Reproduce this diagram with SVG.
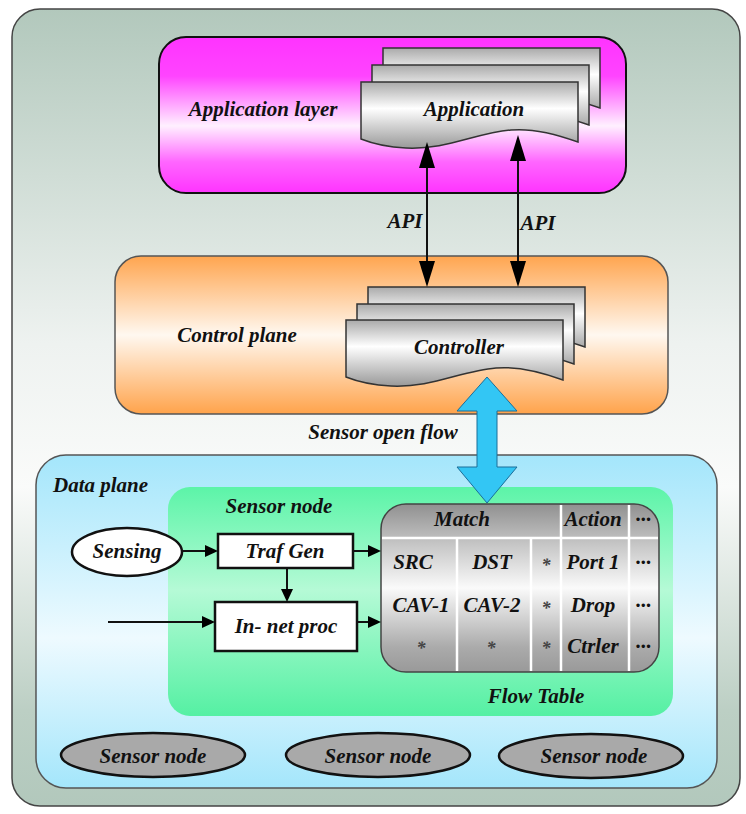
<svg xmlns="http://www.w3.org/2000/svg" width="746" height="814" viewBox="0 0 746 814">
<style>
  text { font-family: "Liberation Serif", "Times New Roman", serif; font-weight: bold; font-style: italic; font-size: 21px; fill: #111; }
  .mid { text-anchor: middle; }
  .ast { font-size: 18px; fill: #444; }
  .box { fill: #fff; stroke: #111; stroke-width: 2.5; }
  .doc { fill: url(#gDoc); stroke: #333; stroke-width: 1.5; }
  .conn { fill: none; stroke: #111; stroke-width: 2; }
  .sep { stroke: #fff; stroke-width: 2.5; }
  .sn { fill: #a9a9a9; stroke: #111; stroke-width: 2.5; }
</style>
<defs>
  <linearGradient id="gOuter" x1="0" y1="0" x2="0" y2="1">
    <stop offset="0" stop-color="#b2c8bc"/>
    <stop offset="0.42" stop-color="#eef2f0"/>
    <stop offset="0.6" stop-color="#fafbfa"/>
    <stop offset="0.88" stop-color="#bccfc4"/>
    <stop offset="1" stop-color="#b2c8bc"/>
  </linearGradient>
  <linearGradient id="gApp" x1="0" y1="0" x2="0" y2="1">
    <stop offset="0" stop-color="#ff33ff"/>
    <stop offset="0.25" stop-color="#ff44ff"/>
    <stop offset="0.57" stop-color="#fff0ff"/>
    <stop offset="0.8" stop-color="#ff66ff"/>
    <stop offset="1" stop-color="#ff33ff"/>
  </linearGradient>
  <linearGradient id="gCtl" x1="0" y1="0" x2="0" y2="1">
    <stop offset="0" stop-color="#ffa54f"/>
    <stop offset="0.5" stop-color="#fff8f0"/>
    <stop offset="1" stop-color="#ffa34b"/>
  </linearGradient>
  <linearGradient id="gData" x1="0" y1="0" x2="0" y2="1">
    <stop offset="0" stop-color="#a4e6fb"/>
    <stop offset="0.55" stop-color="#eefaff"/>
    <stop offset="1" stop-color="#a4e6fb"/>
  </linearGradient>
  <linearGradient id="gGreen" x1="0" y1="0" x2="0" y2="1">
    <stop offset="0" stop-color="#5cf4a8"/>
    <stop offset="0.45" stop-color="#b5fad6"/>
    <stop offset="1" stop-color="#55f0a3"/>
  </linearGradient>
  <linearGradient id="gDoc" x1="0" y1="0" x2="0" y2="1">
    <stop offset="0" stop-color="#aaaaaa"/>
    <stop offset="0.4" stop-color="#ffffff"/>
    <stop offset="1" stop-color="#999999"/>
  </linearGradient>
  <linearGradient id="gTable" x1="0" y1="0" x2="0" y2="1">
    <stop offset="0" stop-color="#909090"/>
    <stop offset="0.25" stop-color="#c8c8c8"/>
    <stop offset="0.5" stop-color="#fafafa"/>
    <stop offset="0.85" stop-color="#ababab"/>
    <stop offset="1" stop-color="#999999"/>
  </linearGradient>
  <path id="docShape" d="M0,0 H217 V60 C195,52 172,46 150,48 C115,51 85,68 45,66 C25,65 10,61 0,57 Z"/>
  <marker id="big" markerUnits="userSpaceOnUse" viewBox="0 0 26 16" markerWidth="26" markerHeight="16" refX="22" refY="8" orient="auto-start-reverse">
    <path d="M0,0 L26,8 L0,16 Z" fill="#000"/>
  </marker>
  <marker id="small" markerUnits="userSpaceOnUse" viewBox="0 0 13 12" markerWidth="13" markerHeight="12" refX="10" refY="6" orient="auto">
    <path d="M0,0 L13,6 L0,12 Z" fill="#000"/>
  </marker>
</defs>

<rect x="0" y="0" width="746" height="814" fill="#fff"/>

<g id="outer">
  <rect x="12" y="9" width="728" height="797" rx="28" fill="url(#gOuter)" stroke="#444" stroke-width="1.5"/>
</g>

<g id="application-layer">
  <rect x="159" y="37" width="467" height="156" rx="27" fill="url(#gApp)" stroke="#111" stroke-width="2"/>
  <text class="mid" x="263" y="116">Application layer</text>
</g>

<g id="application">
  <use href="#docShape" class="doc" transform="translate(383,48)"/>
  <use href="#docShape" class="doc" transform="translate(372,65)"/>
  <use href="#docShape" class="doc" transform="translate(361,82)"/>
  <text class="mid" x="474" y="116">Application</text>
</g>

<g id="control-plane">
  <rect x="115" y="256" width="553" height="158" rx="26" fill="url(#gCtl)" stroke="#555" stroke-width="1.5"/>
  <text class="mid" x="237" y="342">Control plane</text>
</g>

<g id="controller">
  <use href="#docShape" class="doc" transform="translate(368,287)"/>
  <use href="#docShape" class="doc" transform="translate(357,304)"/>
  <use href="#docShape" class="doc" transform="translate(346,320)"/>
  <text class="mid" x="459" y="354">Controller</text>
</g>

<g id="data-plane">
  <rect x="36" y="455" width="681" height="333" rx="30" fill="url(#gData)" stroke="#555" stroke-width="1.5"/>
  <text x="53" y="492">Data plane</text>
</g>

<g id="sensor-node-main">
  <rect x="168" y="487" width="505" height="229" rx="22" fill="url(#gGreen)"/>
  <text class="mid" x="279" y="513">Sensor node</text>
</g>

<g id="sensing">
  <ellipse cx="127" cy="552" rx="55" ry="24" class="box"/>
  <text class="mid" x="127" y="558">Sensing</text>
</g>

<g id="traf-gen">
  <rect x="218" y="534" width="135" height="34" class="box"/>
  <text class="mid" x="285" y="558">Traf Gen</text>
</g>

<g id="in-net-proc">
  <rect x="215" y="602" width="142" height="49" class="box"/>
  <text class="mid" x="286" y="633">In- net proc</text>
</g>

<g id="flow-table">
  <rect x="381" y="504" width="278" height="168" rx="25" fill="url(#gTable)" stroke="#444" stroke-width="1.5"/>
  <line class="sep" x1="382" y1="538" x2="658" y2="538"/>
  <line class="sep" x1="561" y1="505" x2="561" y2="671"/>
  <line class="sep" x1="629" y1="505" x2="629" y2="671"/>
  <line class="sep" x1="457" y1="539" x2="457" y2="671"/>
  <line class="sep" x1="531" y1="539" x2="531" y2="671"/>
  <text class="mid" x="462" y="526">Match</text>
  <text class="mid" x="593" y="526">Action</text>
  <text class="mid" x="643" y="526">···</text>
  <text class="mid" x="413" y="569">SRC</text>
  <text class="mid" x="492" y="569">DST</text>
  <text class="mid ast" x="546" y="571">*</text>
  <text class="mid" x="593" y="569">Port 1</text>
  <text class="mid" x="643" y="569">···</text>
  <text class="mid" x="421" y="612">CAV-1</text>
  <text class="mid" x="492" y="612">CAV-2</text>
  <text class="mid ast" x="546" y="614">*</text>
  <text class="mid" x="593" y="612">Drop</text>
  <text class="mid" x="643" y="612">···</text>
  <text class="mid ast" x="421" y="654">*</text>
  <text class="mid ast" x="491" y="654">*</text>
  <text class="mid ast" x="546" y="654">*</text>
  <text class="mid" x="593" y="653">Ctrler</text>
  <text class="mid" x="643" y="653">···</text>
  <text class="mid" x="536" y="703">Flow Table</text>
</g>

<g id="sensor-node-1">
  <ellipse cx="153" cy="755" rx="92" ry="22" class="sn"/>
  <text class="mid" x="153" y="763">Sensor node</text>
</g>
<g id="sensor-node-2">
  <ellipse cx="378" cy="755" rx="92" ry="22" class="sn"/>
  <text class="mid" x="378" y="763">Sensor node</text>
</g>
<g id="sensor-node-3">
  <ellipse cx="591" cy="756" rx="92" ry="22" class="sn"/>
  <text class="mid" x="594" y="763">Sensor node</text>
</g>

<g id="connectors">
  <path class="conn" d="M427,146 V283" marker-start="url(#big)" marker-end="url(#big)"/>
  <path class="conn" d="M518,139 V283" marker-start="url(#big)" marker-end="url(#big)"/>
  <text class="mid" x="405" y="228">API</text>
  <text class="mid" x="538" y="230">API</text>
  <polygon points="487,377 517,411 497,411 497,467 517,467 487,503 457,467 477,467 477,411 457,411" fill="#33c6f4" stroke="#1b6e99" stroke-width="1"/>
  <text class="mid" x="383" y="439">Sensor open flow</text>
  <path class="conn" d="M183,551 H215" marker-end="url(#small)"/>
  <path class="conn" d="M353,551 H378" marker-end="url(#small)"/>
  <path class="conn" d="M287,568 V599" marker-end="url(#small)"/>
  <path class="conn" d="M108,622 H212" marker-end="url(#small)"/>
  <path class="conn" d="M357,622 H378" marker-end="url(#small)"/>
</g>
</svg>
